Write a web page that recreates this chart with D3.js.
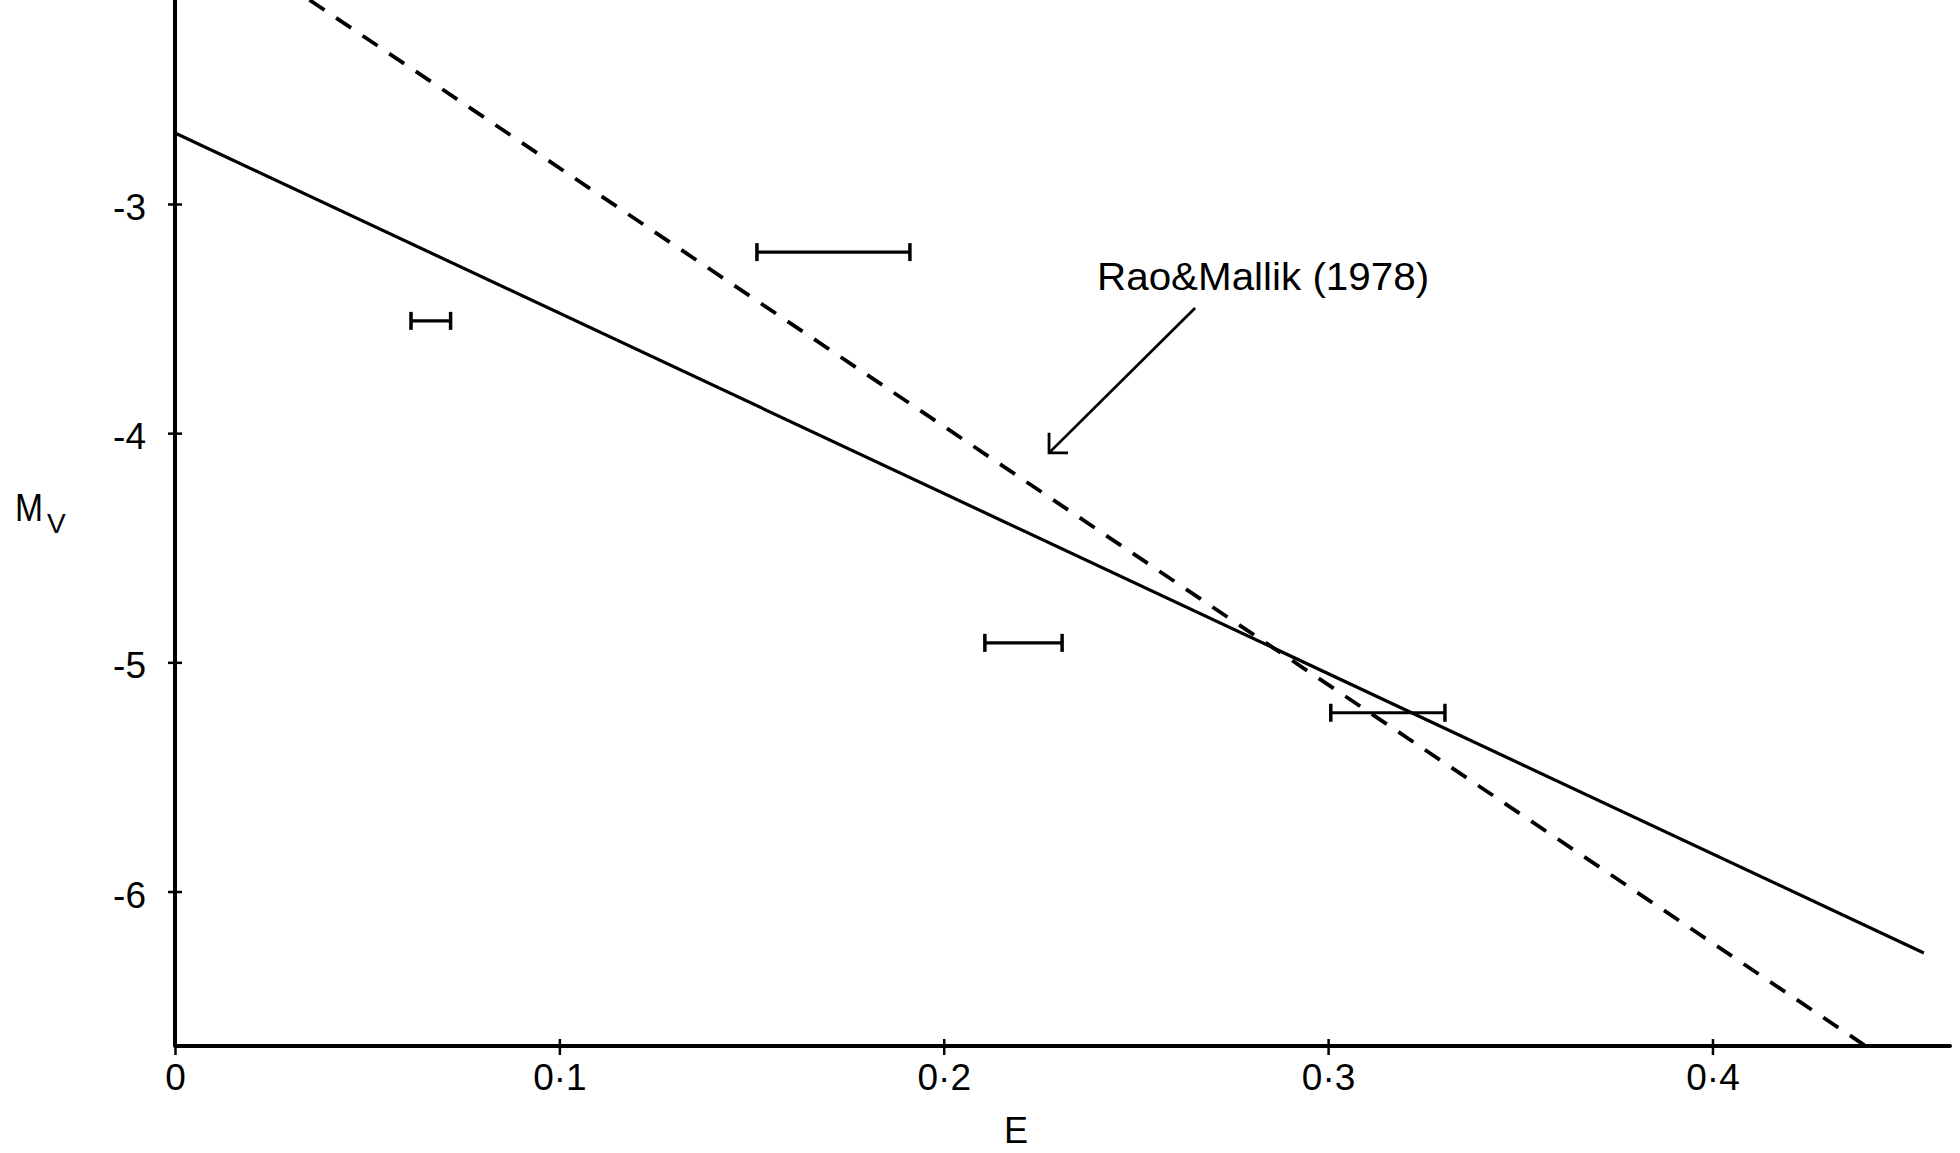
<!DOCTYPE html>
<html>
<head>
<meta charset="utf-8">
<script src="https://cdn.jsdelivr.net/npm/d3@7"></script>
<style>
  html, body { margin: 0; padding: 0; background: #fff; }
  svg { display: block; }
  text { font-family: "Liberation Sans", "DejaVu Sans", Arial, sans-serif; fill: #000; }
</style>
</head>
<body>
<svg id="chart" width="1960" height="1153"></svg>
<script>
// ---- data ----
const xTicks = [0, 0.1, 0.2, 0.3, 0.4];
const xTickLabels = ["0", "0·1", "0·2", "0·3", "0·4"];
const yTicks = [-3, -4, -5, -6];
const yTickLabels = ["-3", "-4", "-5", "-6"];

// solid fitted relation (E, Mv) endpoints
const solidE = [0, 0.455];
const solidMv = [-2.69, -6.268];
// dashed relation: Rao & Mallik (1978)
const dashedE = [0.035, 0.4395];
const dashedMv = [-2.11, -6.67];

// horizontal error bars: E range at given Mv
const barELow = [0.0614, 0.1514, 0.2107, 0.3007];
const barEHigh = [0.0717, 0.1912, 0.2308, 0.3304];
const barMv = [-3.51, -3.21, -4.915, -5.22];

const annotationText = "Rao&Mallik (1978)";
const xTitle = "E";
const yTitleMain = "M";
const yTitleSub = "V";

// ---- drawing ----
const svg = d3.select("#chart");
svg.append("rect").attr("width", 1960).attr("height", 1153).attr("fill", "#fff");

const x = d3.scaleLinear().domain([0, 0.4618]).range([175, 1950]);
const y = d3.scaleLinear().domain([-2.11, -6.674]).range([0, 1046]);

// x axis
const xAxis = d3.axisBottom(x)
  .tickValues(xTicks)
  .tickFormat((d, i) => xTickLabels[i])
  .tickSizeOuter(0);
const gx = svg.append("g").attr("transform", `translate(0,${y.range()[1]})`).call(xAxis);
gx.select(".domain").attr("stroke", "#000").attr("stroke-width", 4).attr("stroke-linecap", "round")
  .attr("d", `M${x.range()[0]},0H${x.range()[1]}`);
gx.selectAll(".tick line").attr("stroke", "#000").attr("stroke-width", 2.5).attr("y1", -7).attr("y2", 9);
gx.selectAll(".tick text").attr("y", 44).attr("dy", 0).attr("font-size", 37).attr("font-family", null);

// y axis
const yAxis = d3.axisLeft(y)
  .tickValues(yTicks)
  .tickFormat((d, i) => yTickLabels[i])
  .tickSizeOuter(0);
const gy = svg.append("g").attr("transform", `translate(${x.range()[0]},0)`).call(yAxis);
gy.select(".domain").attr("stroke", "#000").attr("stroke-width", 4)
  .attr("d", `M0,${y.range()[0]}V${y.range()[1]}`);
gy.selectAll(".tick line").attr("stroke", "#000").attr("stroke-width", 2.5).attr("x1", 7).attr("x2", -7);
gy.selectAll(".tick text").attr("x", -29).attr("dy", "0.42em").attr("font-size", 37).attr("font-family", null);

// lines
const line = d3.line().x(d => x(d[0])).y(d => y(d[1]));
svg.append("path")
  .datum(solidE.map((e, i) => [e, solidMv[i]]))
  .attr("d", line).attr("fill", "none").attr("stroke", "#000").attr("stroke-width", 3.2);
svg.append("path")
  .datum(dashedE.map((e, i) => [e, dashedMv[i]]))
  .attr("d", line).attr("fill", "none").attr("stroke", "#000").attr("stroke-width", 3.8)
  .attr("stroke-dasharray", "18,14");

// error bars
const bars = svg.append("g").selectAll("g").data(barMv.map((m, i) => ({lo: barELow[i], hi: barEHigh[i], mv: m})))
  .join("g");
bars.append("line").attr("x1", d => x(d.lo)).attr("x2", d => x(d.hi))
  .attr("y1", d => y(d.mv)).attr("y2", d => y(d.mv)).attr("stroke", "#000").attr("stroke-width", 3.2);
bars.append("line").attr("x1", d => x(d.lo)).attr("x2", d => x(d.lo))
  .attr("y1", d => y(d.mv) - 9).attr("y2", d => y(d.mv) + 9).attr("stroke", "#000").attr("stroke-width", 3.5);
bars.append("line").attr("x1", d => x(d.hi)).attr("x2", d => x(d.hi))
  .attr("y1", d => y(d.mv) - 9).attr("y2", d => y(d.mv) + 9).attr("stroke", "#000").attr("stroke-width", 3.5);

// annotation
svg.append("text").attr("x", x(0.2399)).attr("y", y(-3.375)).attr("font-size", 38)
  .attr("textLength", 332).attr("lengthAdjust", "spacingAndGlyphs").text(annotationText);
const ax0 = x(0.2654), ay0 = y(-3.454), ax1 = x(0.2274), ay1 = y(-4.086);
svg.append("line").attr("x1", ax0).attr("y1", ay0).attr("x2", ax1).attr("y2", ay1)
  .attr("stroke", "#000").attr("stroke-width", 2.8);
svg.append("path").attr("d", `M${ax1},${ay1 - 20}V${ay1}H${ax1 + 19}`)
  .attr("fill", "none").attr("stroke", "#000").attr("stroke-width", 2.8);

// axis titles
svg.append("text").attr("x", x(0.2188)).attr("y", 1143).attr("font-size", 36)
  .attr("text-anchor", "middle").text(xTitle);
const yt = svg.append("text").attr("x", 15).attr("y", 521).attr("font-size", 38);
yt.append("tspan").attr("textLength", 28).attr("lengthAdjust", "spacingAndGlyphs").text(yTitleMain);
yt.append("tspan").attr("x", 47).attr("y", 533).attr("font-size", 28).text(yTitleSub);
</script>
</body>
</html>
